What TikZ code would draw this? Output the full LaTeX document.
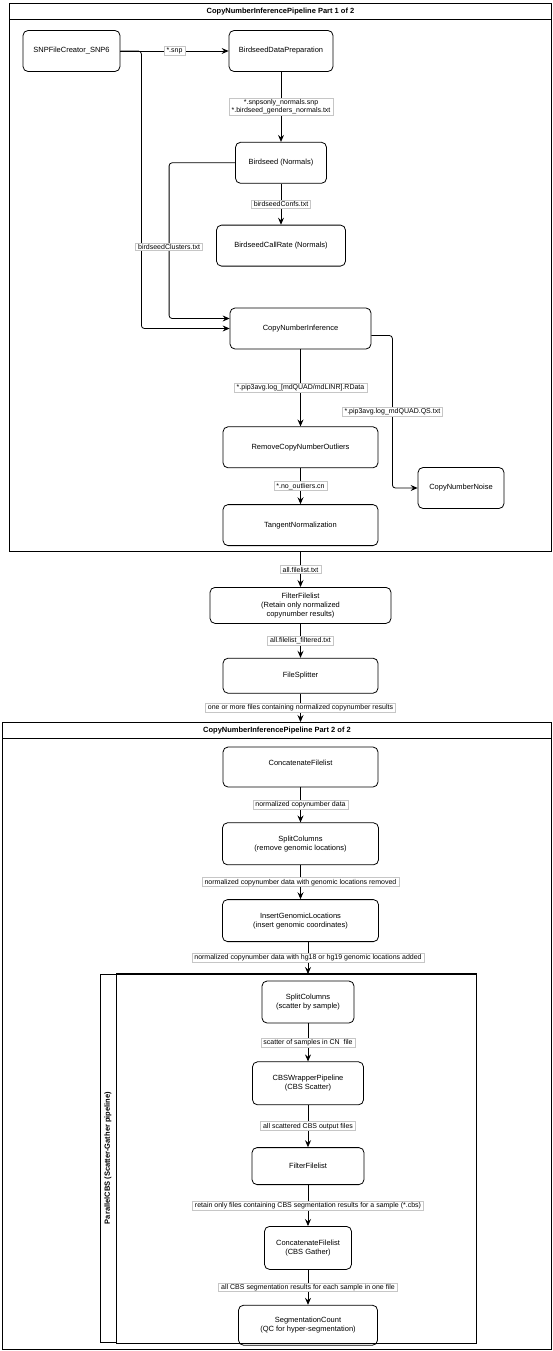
\documentclass[tikz,border=0pt]{standalone}
\usepackage{fontspec}
\setmainfont{Liberation Sans}
\usetikzlibrary{arrows.meta,positioning}

\begin{document}
\begin{tikzpicture}[
    x=1pt, y=-1pt,
    every node/.style={font=\fontsize{7.5}{9}\selectfont},
    box/.style={rectangle,draw,rounded corners=5pt,line width=0.8pt,align=center,
                minimum height=41pt,inner sep=2pt},
    lbl/.style={rectangle,sharp corners,draw=gray!45,fill=white,line width=0.6pt,align=center,
                font=\fontsize{7}{8.4}\selectfont,inner xsep=2.5pt,inner ysep=1.2pt},
    arr/.style={-{Stealth[length=7pt,width=6pt,inset=2.5pt]},line width=0.8pt,rounded corners=3pt},
    pane/.style={rectangle,draw,line width=1pt,anchor=north west,inner sep=0pt},
    bar/.style={pane,minimum height=16pt,font=\fontsize{7.5}{9}\selectfont\bfseries}
]
\useasboundingbox (0,0) rectangle (553,1351);

% Part 1
\node[pane,minimum width=542pt,minimum height=548pt] (part1) at (9,3) {};
\node[bar,minimum width=542pt] (part1bar) at (9,3) {CopyNumberInferencePipeline Part 1 of 2};

\node[box,minimum width=97pt] (snp) at (71.5,51) {SNPFileCreator\_SNP6};
\node[box,minimum width=104pt] (prep) at (281,51) {BirdseedDataPreparation};
\node[box,minimum width=91pt,below=70pt of prep] (bird) {Birdseed (Normals)};
\node[box,minimum width=129pt,below=41pt of bird] (callrate) {BirdseedCallRate (Normals)};
\node[box,minimum width=141pt] (cni) at (300.5,328.5) {CopyNumberInference};
\node[box,minimum width=155pt,below=77pt of cni] (rmout) {RemoveCopyNumberOutliers};
\node[box,minimum width=155pt,below=36pt of rmout] (tangent) {TangentNormalization};
\node[box,minimum width=86pt] (noise) at (461,488) {CopyNumberNoise};

\draw[arr] (snp) -- node[lbl] (lsnp) {*.snp} (prep);
\draw[arr] (snp.east) -- ++(21,0) |- (cni.west);
\draw[arr] (prep) -- node[lbl] (lprep) {*.snpsonly\_normals.snp\\*.birdseed\_genders\_normals.txt} (bird);
\draw[arr] (bird) -- node[lbl] (lconfs) {birdseedConfs.txt} (callrate);
\draw[arr] (bird.west) -- ++(-66,0) |- node[lbl,pos=0.27] (lclust) {birdseedClusters.txt} ([yshift=10pt]cni.west);
\draw[arr] ([yshift=-7pt]cni.east) -- ++(21,0) |- node[lbl,pos=0.25] (lqs) {*.pip3avg.log\_mdQUAD.QS.txt} (noise.west);
\draw[arr] (cni) -- node[lbl] (lrdata) {*.pip3avg.log\_[mdQUAD/mdLINR].RData} (rmout);
\draw[arr] (rmout) -- node[lbl] (lcn) {*.no\_outliers.cn} (tangent);

% between the parts
\node[box,minimum width=181pt,minimum height=36pt,below=41pt of tangent] (filt) {FilterFilelist\\(Retain only normalized\\copynumber results)};
\node[box,minimum width=155pt,minimum height=35pt,below=34pt of filt] (fsplit) {FileSplitter};

% Part 2
\node[pane,minimum width=549pt,minimum height=627pt] (part2) at (2,722) {};
\node[bar,minimum width=549pt] (part2bar) at (2,722) {CopyNumberInferencePipeline Part 2 of 2};

\draw[arr] (part1.south -| filt.north) -- node[lbl] (lall) {all.filelist.txt} (filt);
\draw[arr] (filt) -- node[lbl] (lfilt) {all.filelist\_filtered.txt} (fsplit);
\draw[arr] (fsplit) -- node[lbl] (lsplit) {one or more files containing normalized copynumber results} (fsplit.south |- part2.north);

\node[box,minimum width=155pt,minimum height=40pt,below=53pt of fsplit] (concat) {ConcatenateFilelist\\\mbox{}};
\node[box,minimum width=156pt,minimum height=42pt,below=35pt of concat] (splitcol) {SplitColumns\\(remove genomic locations)};
\node[box,minimum width=156pt,minimum height=42pt,below=34pt of splitcol] (insert) {InsertGenomicLocations\\(insert genomic coordinates)};

% ParallelCBS lane
\node[pane,minimum width=360pt,minimum height=369pt] (pcbs) at (116,974) {};
\draw[line width=2pt] (pcbs.north west) -- (pcbs.north east);
\node[rectangle,draw,line width=1pt,rotate=90,minimum width=368pt,minimum height=16pt,inner sep=0pt,
      font=\fontsize{7.5}{9}\selectfont\bfseries] (pcbslane) at (108,1158) {ParallelCBS (Scatter-Gather pipeline)};

\node[box,minimum width=92pt,minimum height=42pt] (scatter) at (308,1002) {SplitColumns\\(scatter by sample)};
\node[box,minimum width=111pt,minimum height=43pt,below=38pt of scatter] (cbsw) {CBSWrapperPipeline\\(CBS Scatter)};
\node[box,minimum width=112pt,minimum height=37pt,below=42pt of cbsw] (cbsfilt) {FilterFilelist};
\node[box,minimum width=87pt,minimum height=43pt,below=41pt of cbsfilt] (gather) {ConcatenateFilelist\\(CBS Gather)};
\node[box,minimum width=139pt,minimum height=40pt,below=35pt of gather] (segcount) {SegmentationCount\\(QC for hyper-segmentation)};

\draw[arr] (concat) -- node[lbl] (lnorm) {normalized copynumber data} (splitcol);
\draw[arr] (splitcol) -- node[lbl] (lremoved) {normalized copynumber data with genomic locations removed} (insert);
\draw[arr] (insert.south -| scatter.north) -- node[lbl] (ladded) {normalized copynumber data with hg18 or hg19 genomic locations added} (pcbs.north -| scatter.north);
\draw[arr] (scatter) -- node[lbl] (lscatter) {scatter of samples in CN\ \ file} (cbsw);
\draw[arr] (cbsw) -- node[lbl] (lcbsout) {all scattered CBS output files} (cbsfilt);
\draw[arr] (cbsfilt) -- node[lbl] (lretain) {retain only files containing CBS segmentation results for a sample (*.cbs)} (gather);
\draw[arr] (gather) -- node[lbl] (lgather) {all CBS segmentation results for each sample in one file} (segcount);
\end{tikzpicture}
\end{document}
